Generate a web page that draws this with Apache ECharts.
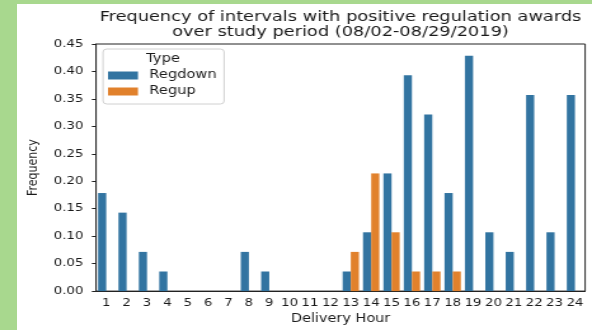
<!DOCTYPE html>
<html>
<head>
<meta charset="utf-8">
<script src="https://cdn.jsdelivr.net/npm/echarts@6/dist/echarts.min.js"></script>
<style>
  html, body { margin: 0; padding: 0; background: #a8d88e; overflow: hidden; }
  #paper { position: absolute; left: 17px; top: 4px; width: 575px; height: 326px; background: #fff; }
  /* the source picture is stretched sideways, so draw narrow and stretch it the same way */
  #main { position: absolute; left: 0; top: 0; width: 466px; height: 330px; transform: scaleX(1.2704); transform-origin: 0 0; }
</style>
</head>
<body>
<div id="paper"></div>
<div id="main"></div>
<script>
var hours = ['1', '2', '3', '4', '5', '6', '7', '8', '9', '10', '11', '12',
  '13', '14', '15', '16', '17', '18', '19', '20', '21', '22', '23', '24'];
var regdown = [0.1786, 0.1429, 0.0714, 0.0357, 0, 0, 0, 0.0714, 0.0357, 0, 0, 0,
  0.0357, 0.1071, 0.2143, 0.3929, 0.3214, 0.1786, 0.4286, 0.1071, 0.0714, 0.3571, 0.1071, 0.3571];
var regup = [0, 0, 0, 0, 0, 0, 0, 0, 0, 0, 0, 0,
  0.0714, 0.2143, 0.1071, 0.0357, 0.0357, 0.0357, 0, 0, 0, 0, 0, 0];
var yMin = 0, yMax = 0.45, yStep = 0.05;

var font = 'DejaVu Sans';
var ink = '#1a1a1a';

var chart = echarts.init(document.getElementById('main'), null, { renderer: 'canvas' });

var option = {
  animation: false,
  backgroundColor: 'transparent',
  title: {
    text: 'Frequency of intervals with positive regulation awards\nover study period (08/02-08/29/2019)',
    left: 268,
    top: 10,
    textAlign: 'center',
    padding: 0,
    textStyle: { fontFamily: font, fontSize: 14, fontWeight: 'normal', color: ink, lineHeight: 15 }
  },
  grid: {
    left: 75.6, right: 5.4, top: 44, bottom: 36,
    show: true, borderColor: '#222', borderWidth: 1, backgroundColor: 'transparent'
  },
  legend: {
    data: ['Regdown', 'Regup'],
    orient: 'vertical',
    left: 85,
    top: 69.5,
    padding: 0,
    itemWidth: 23.6,
    itemHeight: 8,
    itemGap: 4,
    icon: 'rect',
    textStyle: { fontFamily: font, fontSize: 11.5, color: ink, padding: [0, 0, 0, 4] }
  },
  graphic: [
    {
      type: 'rect', z: 1,
      shape: { x: 81.1, y: 49, width: 95.3, height: 55, r: 3 },
      style: { fill: 'rgba(255,255,255,0.8)', stroke: '#d0d0d0', lineWidth: 1 }
    },
    {
      type: 'text', z: 2,
      style: { x: 128.3, y: 59, text: 'Type', align: 'center', verticalAlign: 'middle',
        font: '11.5px "DejaVu Sans"', fill: ink }
    }
  ],
  xAxis: {
    type: 'category',
    data: hours,
    name: 'Delivery Hour',
    nameLocation: 'middle',
    nameGap: 22,
    nameTextStyle: { fontFamily: font, fontSize: 11.4, color: ink },
    axisLine: { lineStyle: { color: '#222', width: 1 } },
    axisTick: { alignWithLabel: true, length: 4, lineStyle: { color: '#222' } },
    axisLabel: { fontFamily: font, fontSize: 10.5, color: ink, margin: 7, interval: 0 }
  },
  yAxis: {
    type: 'value',
    min: yMin, max: yMax, interval: yStep,
    name: 'Frequency',
    nameLocation: 'middle',
    nameGap: 31,
    nameTextStyle: { fontFamily: font, fontSize: 11, color: ink },
    axisLine: { show: true, lineStyle: { color: '#222', width: 1 } },
    axisTick: { show: true, length: 3.3, lineStyle: { color: '#222' } },
    splitLine: { show: false },
    axisLabel: {
      fontFamily: font, fontSize: 10.5, color: ink, margin: 10,
      formatter: function (v) { return v.toFixed(2); }
    }
  },
  series: [
    {
      name: 'Regdown', type: 'bar', data: regdown,
      barWidth: '40%', barGap: '0%',
      itemStyle: { color: '#3274a1' }
    },
    {
      name: 'Regup', type: 'bar', data: regup,
      barWidth: '40%', barGap: '0%',
      itemStyle: { color: '#e1812c' }
    }
  ]
};

chart.setOption(option);
</script>
</body>
</html>
